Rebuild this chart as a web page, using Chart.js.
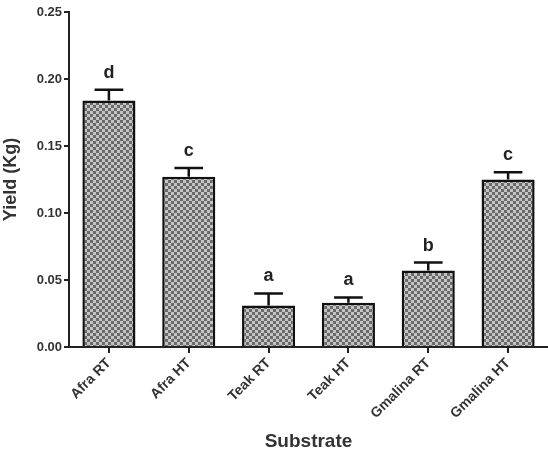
<!DOCTYPE html>
<html>
<head>
<meta charset="utf-8">
<script src="https://cdn.jsdelivr.net/npm/chart.js@4/dist/chart.umd.min.js"></script>
<style>
  html, body { margin: 0; padding: 0; background: #fff; }
  #wrap { width: 548px; height: 459px; }
</style>
</head>
<body>
<div id="wrap"><canvas id="yieldChart" width="548" height="459"></canvas></div>
<script>
// Data
const substrates = ["Afra RT", "Afra HT", "Teak RT", "Teak HT", "Gmalina RT", "Gmalina HT"];
const yieldKg = [0.184, 0.127, 0.031, 0.033, 0.057, 0.125];
const yieldErr = [0.008, 0.0065, 0.009, 0.004, 0.006, 0.0055];
const groupLetters = ["d", "c", "a", "a", "b", "c"];
const yTicks = [0, 0.05, 0.10, 0.15, 0.20, 0.25];

const FONT = "'Liberation Sans', Arial, sans-serif";

// checkered grey fill like the original print
function makePattern() {
    const p = document.createElement("canvas");
    p.width = 6;
    p.height = 6;
    const c = p.getContext("2d");
    c.fillStyle = "#c4c4c4";
    c.fillRect(0, 0, 6, 6);
    c.fillStyle = "#6a6a6a";
    c.fillRect(0, 0, 3, 3);
    c.fillRect(3, 3, 3, 3);
    return c.createPattern(p, "repeat");
}

// error bars (upper only) and letters above each bar
const errorBarPlugin = {
    id: "errorBars",
    afterDatasetsDraw(chart) {
        const ctx = chart.ctx;
        const y = chart.scales.y;
        const meta = chart.getDatasetMeta(0);
        ctx.save();
        ctx.strokeStyle = "#111";
        ctx.lineWidth = 2.5;
        meta.data.forEach((bar, i) => {
            const top = y.getPixelForValue(yieldKg[i]);
            const cap = y.getPixelForValue(yieldKg[i] + yieldErr[i]);
            const half = bar.width * 0.27;
            ctx.beginPath();
            ctx.moveTo(bar.x, top);
            ctx.lineTo(bar.x, cap);
            ctx.moveTo(bar.x - half, cap);
            ctx.lineTo(bar.x + half, cap);
            ctx.stroke();

            ctx.fillStyle = "#222";
            ctx.font = "bold 18px " + FONT;
            ctx.textAlign = "center";
            ctx.textBaseline = "alphabetic";
            ctx.fillText(groupLetters[i], bar.x, cap - 12);
        });
        ctx.restore();
    },
};

const tickFont = { family: FONT, size: 13, weight: "bold" };

new Chart(document.getElementById("yieldChart").getContext("2d"), {
    type: "bar",
    data: {
        labels: substrates,
        datasets: [
            {
                label: "Yield",
                data: yieldKg,
                backgroundColor: makePattern(),
                borderColor: "#111",
                borderWidth: 2.5,
                borderSkipped: "bottom",
                barPercentage: 0.665,
                categoryPercentage: 1.0,
            },
        ],
    },
    options: {
        responsive: false,
        animation: false,
        layout: { padding: { top: 12, right: 0, left: 0, bottom: 0 } },
        plugins: {
            legend: { display: false },
            tooltip: { enabled: false },
        },
        scales: {
            x: {
                grid: { display: true, offset: false, drawOnChartArea: false, drawTicks: true, tickLength: 6, color: "#222", lineWidth: 2 },
                border: { display: true, color: "#222", width: 2 },
                ticks: { color: "#333", font: { family: FONT, size: 14, weight: "bold" }, minRotation: 45, maxRotation: 45, padding: 2 },
                title: {
                    display: true,
                    text: "Substrate",
                    color: "#333",
                    font: { family: FONT, size: 19, weight: "bold" },
                    padding: { top: 0, bottom: 6 },
                },
                afterFit(scale) { scale.height = 112; },
            },
            y: {
                min: 0,
                max: 0.25,
                afterBuildTicks(scale) { scale.ticks = yTicks.map((v) => ({ value: v })); },
                grid: { display: true, drawOnChartArea: false, drawTicks: true, tickLength: 5, color: "#222", lineWidth: 2 },
                border: { display: true, color: "#222", width: 2 },
                ticks: {
                    color: "#333",
                    font: tickFont,
                    padding: 2,
                    callback: (v) => Number(v).toFixed(2),
                },
                title: {
                    display: true,
                    text: "Yield (Kg)",
                    color: "#333",
                    font: { family: FONT, size: 18, weight: "bold" },
                    padding: { top: 0, bottom: 2 },
                },
                afterFit(scale) { scale.width = 69; },
            },
        },
    },
    plugins: [errorBarPlugin],
});
</script>
</body>
</html>
